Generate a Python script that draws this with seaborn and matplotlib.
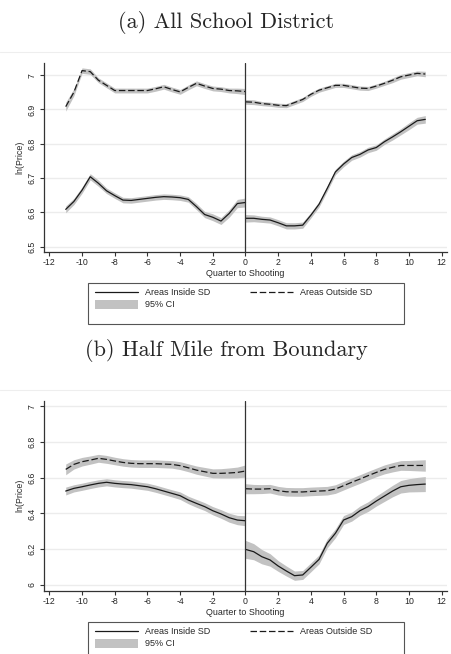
import numpy as np
import pandas as pd
import matplotlib
matplotlib.use("Agg")
import matplotlib.pyplot as plt
import seaborn as sns
from matplotlib.lines import Line2D
from matplotlib.patches import Patch, Rectangle

# ---------------- data ----------------
x_pre = [-11, -10.5, -10, -9.5, -9, -8.5, -8, -7.5, -7, -6.5, -6, -5.5, -5, -4.5, -4,
         -3.5, -3, -2.5, -2, -1.5, -1, -0.5, 0]
x_post = [0, 0.5, 1, 1.5, 2, 2.5, 3, 3.5, 4, 4.5, 5, 5.5, 6, 6.5, 7, 7.5, 8, 8.5, 9,
          9.5, 10, 10.5, 11]

# Panel (a): All School District
a_out_pre = [6.908, 6.950, 7.013, 7.010, 6.985, 6.970, 6.955, 6.955, 6.955, 6.955, 6.955,
             6.960, 6.966, 6.958, 6.951, 6.964, 6.976, 6.968, 6.961, 6.959, 6.955, 6.954, 6.952]
a_out_post = [6.922, 6.921, 6.917, 6.915, 6.912, 6.911, 6.920, 6.929, 6.944, 6.956, 6.963,
              6.970, 6.970, 6.966, 6.962, 6.961, 6.968, 6.976, 6.985, 6.995, 7.000, 7.005, 7.003]
a_in_pre = [6.609, 6.632, 6.665, 6.704, 6.685, 6.663, 6.649, 6.636, 6.635, 6.638, 6.641,
            6.644, 6.646, 6.645, 6.643, 6.638, 6.617, 6.594, 6.586, 6.575, 6.597, 6.626, 6.629]
a_in_post = [6.583, 6.583, 6.580, 6.578, 6.570, 6.561, 6.561, 6.563, 6.592, 6.624, 6.670,
             6.718, 6.741, 6.760, 6.769, 6.782, 6.789, 6.806, 6.820, 6.835, 6.851, 6.867, 6.871]
# 95% CI half-widths
a_ci_out_pre = [0.013, 0.010, 0.008, 0.008, 0.007, 0.007, 0.007, 0.007, 0.007, 0.007, 0.007,
                0.007, 0.007, 0.007, 0.007, 0.007, 0.007, 0.007, 0.007, 0.007, 0.007, 0.008, 0.009]
a_ci_out_post = [0.007, 0.007, 0.006, 0.006, 0.006, 0.006, 0.006, 0.006, 0.006, 0.006, 0.006,
                 0.006, 0.006, 0.006, 0.006, 0.006, 0.006, 0.006, 0.007, 0.007, 0.007, 0.007, 0.008]
a_ci_in_pre = [0.010, 0.009, 0.009, 0.009, 0.009, 0.008, 0.008, 0.008, 0.008, 0.008, 0.008,
               0.008, 0.008, 0.008, 0.008, 0.008, 0.009, 0.009, 0.010, 0.010, 0.011, 0.012, 0.013]
a_ci_in_post = [0.011, 0.010, 0.009, 0.009, 0.009, 0.009, 0.009, 0.009, 0.008, 0.008, 0.008,
                0.008, 0.008, 0.008, 0.008, 0.008, 0.008, 0.008, 0.009, 0.009, 0.010, 0.010, 0.011]

# Panel (b): Half Mile from Boundary
b_out_pre = [6.646, 6.674, 6.689, 6.698, 6.708, 6.702, 6.693, 6.685, 6.680, 6.678, 6.678,
             6.678, 6.676, 6.674, 6.667, 6.655, 6.642, 6.633, 6.624, 6.624, 6.626, 6.629, 6.637]
b_out_post = [6.538, 6.536, 6.536, 6.538, 6.527, 6.521, 6.520, 6.520, 6.523, 6.525, 6.527,
              6.536, 6.555, 6.574, 6.592, 6.611, 6.629, 6.646, 6.658, 6.668, 6.668, 6.668, 6.668]
b_in_pre = [6.525, 6.540, 6.549, 6.559, 6.568, 6.574, 6.568, 6.564, 6.561, 6.555, 6.549,
            6.538, 6.525, 6.512, 6.499, 6.475, 6.456, 6.438, 6.415, 6.397, 6.376, 6.363, 6.359]
b_in_post = [6.199, 6.186, 6.158, 6.140, 6.106, 6.078, 6.052, 6.056, 6.099, 6.143, 6.233,
             6.289, 6.363, 6.382, 6.415, 6.438, 6.469, 6.497, 6.525, 6.549, 6.557, 6.561, 6.564]
b_ci_out_pre = [0.030, 0.026, 0.024, 0.023, 0.022, 0.022, 0.021, 0.021, 0.021, 0.021, 0.021,
                0.021, 0.021, 0.021, 0.022, 0.022, 0.023, 0.024, 0.025, 0.026, 0.028, 0.030, 0.034]
b_ci_out_post = [0.028, 0.026, 0.025, 0.024, 0.024, 0.024, 0.024, 0.024, 0.024, 0.024, 0.024,
                 0.024, 0.024, 0.024, 0.024, 0.024, 0.024, 0.025, 0.026, 0.027, 0.028, 0.030, 0.032]
b_ci_in_pre = [0.022, 0.020, 0.020, 0.020, 0.020, 0.020, 0.020, 0.020, 0.020, 0.020, 0.020,
               0.020, 0.020, 0.020, 0.021, 0.021, 0.022, 0.022, 0.023, 0.024, 0.025, 0.026, 0.028]
b_ci_in_post = [0.050, 0.045, 0.040, 0.035, 0.030, 0.028, 0.026, 0.025, 0.025, 0.025, 0.025,
                0.025, 0.025, 0.025, 0.026, 0.027, 0.028, 0.030, 0.032, 0.035, 0.037, 0.040, 0.042]

xticks = list(range(-12, 13, 2))
a_yticks = [6.5, 6.6, 6.7, 6.8, 6.9, 7.0]
a_yticklabels = ["6.5", "6.6", "6.7", "6.8", "6.9", "7"]
b_yticks = [6.0, 6.2, 6.4, 6.6, 6.8, 7.0]
b_yticklabels = ["6", "6.2", "6.4", "6.6", "6.8", "7"]

titles = ["(a) All School District", "(b) Half Mile from Boundary"]
xlabel = "Quarter to Shooting"
ylabel = "ln(Price)"
legend_labels = ["Areas Inside SD", "95% CI", "Areas Outside SD"]

# ---------------- style ----------------
sns.set_style("white")
plt.rcParams["font.family"] = ["Liberation Sans", "DejaVu Sans"]

W, H = 452, 654
fig = plt.figure(figsize=(W / 100, H / 100), dpi=100)
fig.patch.set_facecolor("white")

CI_COLOR = "#c2c2c2"
LINE_COLOR = "#1a1a1a"
DASH = (5.2, 2.2)


def fy(px):
    return 1 - px / H


def fx(px):
    return px / W


panels = [
    dict(top=62.7, bottom=252.3, ylim=(6.484, 7.036), yticks=a_yticks, yl=a_yticklabels,
         series=[(a_in_pre, a_in_post, a_ci_in_pre, a_ci_in_post, "in"),
                 (a_out_pre, a_out_post, a_ci_out_pre, a_ci_out_post, "out")],
         title_y=22, border_y=52, leg_top=283.3),
    dict(top=400.7, bottom=590.7, ylim=(5.968, 7.030), yticks=b_yticks, yl=b_yticklabels,
         series=[(b_in_pre, b_in_post, b_ci_in_pre, b_ci_in_post, "in"),
                 (b_out_pre, b_out_post, b_ci_out_pre, b_ci_out_post, "out")],
         title_y=351, border_y=390, leg_top=622.3),
]

left_px, right_px = 44.3, 446.7

for i, p in enumerate(panels):
    ax = fig.add_axes([fx(left_px), fy(p["bottom"]), fx(right_px - left_px),
                       (p["bottom"] - p["top"]) / H])
    ax.set_facecolor("white")
    for yt in p["yticks"]:
        ax.axhline(yt, color="#ececec", lw=1.0, zorder=0)
    for (pre, post, ci_pre, ci_post, kind) in p["series"]:
        for xs, ys, ci in ((x_pre, pre, ci_pre), (x_post, post, ci_post)):
            ys = np.asarray(ys)
            ci = np.asarray(ci)
            ax.fill_between(xs, ys - ci, ys + ci, color=CI_COLOR, lw=0, zorder=1)
        for xs, ys in ((x_pre, pre), (x_post, post)):
            df = pd.DataFrame({"x": xs, "y": ys})
            sns.lineplot(data=df, x="x", y="y", ax=ax, color=LINE_COLOR, lw=0.9,
                         zorder=3, legend=False)
            if kind == "out":
                ax.lines[-1].set_dashes(DASH)
    ax.axvline(0, color="#333333", lw=0.9, zorder=4)
    ax.set_xlim(-12.31, 12.31)
    ax.set_ylim(*p["ylim"])
    ax.set_xticks(xticks)
    ax.set_xticklabels([str(t) for t in xticks])
    ax.set_yticks(p["yticks"])
    ax.set_yticklabels(p["yl"], rotation=90, va="center")
    ax.tick_params(axis="both", direction="out", length=3, width=0.8, color="#333333",
                   labelsize=6.3, bottom=True, left=True)
    ax.tick_params(axis="x", pad=1.2)
    ax.tick_params(axis="y", pad=2.5)
    for s in ("top", "right"):
        ax.spines[s].set_visible(False)
    for s in ("left", "bottom"):
        ax.spines[s].set_color("#333333")
        ax.spines[s].set_linewidth(0.9)
    ax.set_xlabel(xlabel, fontsize=6.4, labelpad=1.5)
    ax.set_ylabel(ylabel, fontsize=6.4, labelpad=2.5)

    fig.text(0.5, fy(p["title_y"]), titles[i], ha="center", va="center",
             fontsize=16, family="cmr10")
    fig.add_artist(Line2D([0, 1], [fy(p["border_y"])] * 2, color="#eeeeee", lw=0.8,
                          transform=fig.transFigure))

    # legend frame
    fig.add_artist(Rectangle((fx(88), fy(p["leg_top"] + 41)), fx(404 - 88), 41 / H,
                             transform=fig.transFigure, facecolor="white",
                             edgecolor="#555555", lw=0.8, zorder=5))
    handles = [Line2D([], [], color=LINE_COLOR, lw=0.9),
               Patch(facecolor=CI_COLOR, edgecolor="none"),
               Line2D([], [], color=LINE_COLOR, lw=0.9, dashes=DASH)]
    leg = fig.legend(handles, legend_labels, ncol=2, loc="upper left",
                     bbox_to_anchor=(fx(95), fy(p["leg_top"] + 4.6)),
                     fontsize=6.5, frameon=False,
                     handlelength=4.76, handleheight=1.1, handletextpad=0.78,
                     borderpad=0, labelspacing=0.3, borderaxespad=0, columnspacing=4.35)
    leg.set_zorder(6)

fig.savefig("out.png", dpi=100, facecolor="white")
